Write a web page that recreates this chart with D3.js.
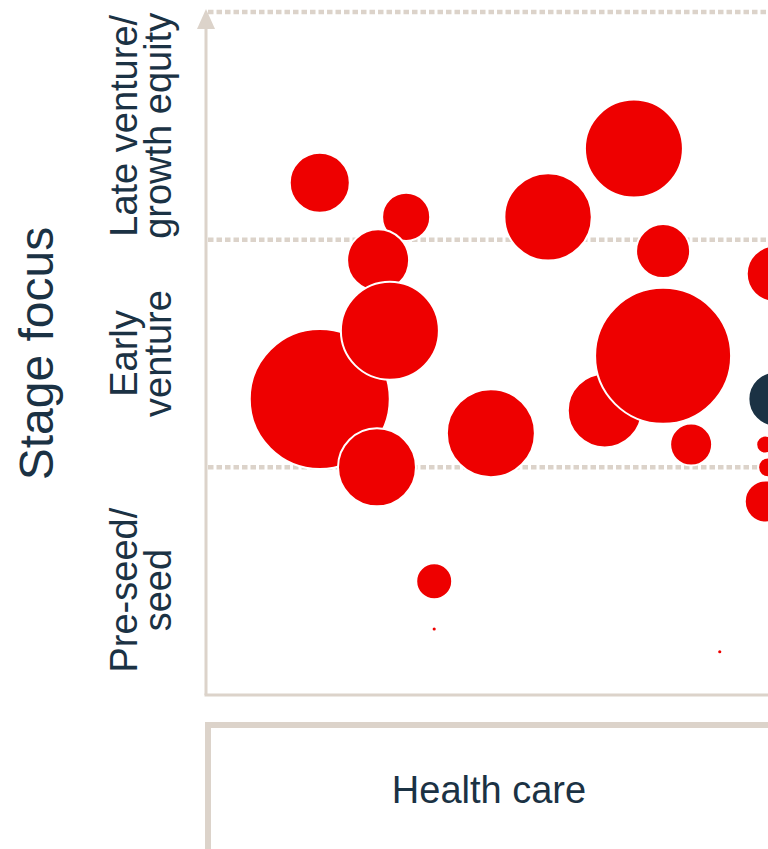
<!DOCTYPE html>
<html>
<head>
<meta charset="utf-8">
<script src="https://cdn.jsdelivr.net/npm/d3@7"></script>
<style>
  body { margin: 0; background: #fff; overflow: hidden; }
  svg { display: block; font-family: "Liberation Sans", Arial, sans-serif; }
</style>
</head>
<body>
<div class="chart"></div>
<script>
// sector shown along the bottom
let sectors = ["Health care"];

// stage bands, bottom to top, each split in two lines
let stageLines = [["Pre-seed/", "seed"], ["Early", "venture"], ["Late venture/", "growth equity"]];

// bubbles: position inside the sector, stage (0-3), relative fund size, highlight flag
let fundPos   = [20.1, 35.5, 30.5, 20.1, 32.6, 30.3, 50.6, 60.8, 76.1, 81.3, 70.9, 81.3, 86.3, 40.5, 40.5, 91.4, 101.2, 101.4, 99.5, 100.0, 99.6];
let fundStage = [1.30, 2.10, 1.91, 2.25, 1.60, 1.00, 1.15, 2.10, 2.40, 1.95, 1.25, 1.49, 1.10, 0.50, 0.29, 0.19, 1.85, 1.30, 1.10, 1.00, 0.85];
let fundSize  = [100, 11.8, 19.6, 18.4, 49, 31, 39.5, 39, 49, 14.9, 27.9, 94.4, 9, 6.6, 0.05, 0.05, 16, 15.4, 1.65, 2, 9];
let fundMark  = [0, 0, 0, 0, 0, 0, 0, 0, 0, 0, 0, 0, 0, 0, 0, 0, 0, 1, 0, 0, 0];

let W = 768, H = 849;
let axisX = 206, plotTop = 12, plotBottom = 695;
let ink = "#1b3244", beige = "#dcd3ca", red = "#ee0000";

let svg = d3.select(".chart").append("svg")
  .attr("width", W).attr("height", H);

let x = d3.scaleLinear().domain([0, 100]).range([207, 768]);
let y = d3.scaleLinear().domain([0, 3]).range([plotBottom, plotTop]);
let r = d3.scaleSqrt().domain([0, 100]).range([0, 70]);

// dotted band lines
svg.append("g").selectAll("line")
  .data([1, 2, 3])
  .join("line")
  .attr("x1", axisX + 2).attr("x2", W + 10)
  .attr("y1", d => y(d)).attr("y2", d => y(d))
  .attr("stroke", beige).attr("stroke-width", 4.5)
  .attr("stroke-dasharray", "5.5,3");

// axes
svg.append("line")
  .attr("x1", axisX).attr("x2", axisX)
  .attr("y1", plotTop + 14).attr("y2", plotBottom)
  .attr("stroke", beige).attr("stroke-width", 3);
svg.append("line")
  .attr("x1", axisX - 1.5).attr("x2", W + 10)
  .attr("y1", plotBottom).attr("y2", plotBottom)
  .attr("stroke", beige).attr("stroke-width", 3);
svg.append("path")
  .attr("d", d3.line()([[axisX, plotTop - 3], [axisX - 9, plotTop + 17], [axisX + 9, plotTop + 17]]) + "Z")
  .attr("fill", beige);

// bubbles
let data = fundPos.map((p, i) => ({pos: p, stage: fundStage[i], size: fundSize[i], mark: fundMark[i]}));
svg.append("g").selectAll("circle")
  .data(data)
  .join("circle")
  .attr("cx", d => x(d.pos))
  .attr("cy", d => y(d.stage))
  .attr("r", d => r(d.size))
  .attr("fill", d => d.mark ? ink : red)
  .attr("stroke", "#fff")
  .attr("stroke-width", d => r(d.size) > 4 ? 2 : 0);

// y labels
let yl = svg.append("g").selectAll("text")
  .data(stageLines)
  .join("text")
  .attr("transform", (d, i) => "translate(137," + (y(i + 0.5) + (i == 0 ? 9 : 0)) + ") rotate(-90)")
  .attr("text-anchor", "middle")
  .attr("fill", ink)
  .attr("font-size", 38);
yl.selectAll("tspan")
  .data(d => d)
  .join("tspan")
  .attr("x", 0)
  .attr("dy", (d, i) => i ? 34 : 0)
  .text(d => d);

svg.append("text")
  .attr("transform", "translate(53," + y(1.5) + ") rotate(-90)")
  .attr("text-anchor", "middle")
  .attr("fill", ink)
  .attr("font-size", 48)
  .text("Stage focus");

// sector box
let box = svg.append("g");
box.append("rect")
  .attr("x", 205).attr("y", 722).attr("width", W).attr("height", 200)
  .attr("fill", beige);
box.append("rect")
  .attr("x", 211).attr("y", 728).attr("width", W).attr("height", 200)
  .attr("fill", "#fff");
box.selectAll("text")
  .data(sectors)
  .join("text")
  .attr("x", 489).attr("y", 803)
  .attr("text-anchor", "middle")
  .attr("fill", ink)
  .attr("font-size", 38)
  .text(d => d);
</script>
</body>
</html>
